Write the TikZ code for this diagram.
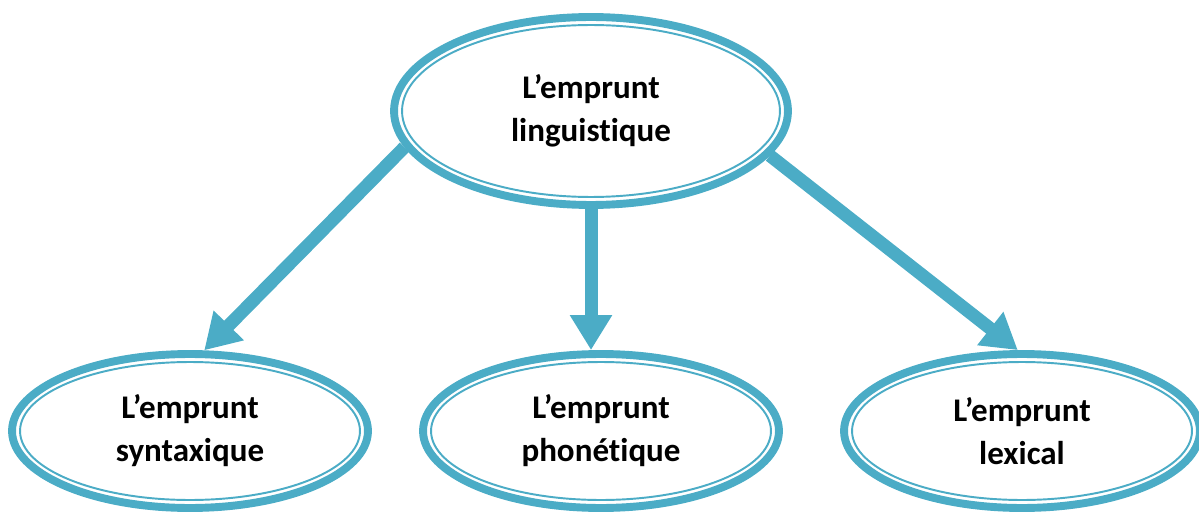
\documentclass[tikz,border=0pt]{standalone}
\usepackage{fontspec}
\setmainfont{Carlito}[Ligatures=NoCommon]
\usetikzlibrary{shapes.geometric,arrows.meta}

\definecolor{aqua}{RGB}{75,172,198}

\begin{document}
\begin{tikzpicture}[
    x=0.02cm, y=-0.02cm,
    bubble/.style={ellipse,draw=aqua,line width=4.5pt,fill=white,align=center,
        font=\fontsize{18.8}{24.5}\selectfont\bfseries},
    topbubble/.style={bubble,minimum width=7.88cm,minimum height=3.76cm},
    lowbubble/.style={bubble,minimum width=7.12cm,minimum height=3.08cm},
    rim/.style={draw=aqua,line width=1.1pt},
    link/.style={draw=aqua,line width=7.4pt,-{Triangle[width=0.8cm,length=0.7cm]}}
]

\useasboundingbox (0,0) rectangle (1199,513);

% Top
\node[topbubble] (borrow) at (591,111) {L’emprunt\\linguistique};
\draw[rim] (borrow.center) ellipse [x radius=3.78cm, y radius=1.72cm];

% Bottom row
\node[lowbubble] (syntax) at (190,431) {L’emprunt\\syntaxique};
\node[lowbubble] (phon) at (601,431) {L’emprunt\\phonétique};
\node[lowbubble] (lex) at (1022,431) {L’emprunt\\lexical};
\foreach \n in {syntax,phon,lex}
    \draw[rim] (\n.center) ellipse [x radius=3.40cm, y radius=1.38cm];

% Arrows
\draw[link] (borrow.191) -- (syntax.80);
\draw[link] (borrow.south) -- (borrow.south |- phon.north);
\draw[link] (borrow.346) -- (lex.93);

\end{tikzpicture}
\end{document}
